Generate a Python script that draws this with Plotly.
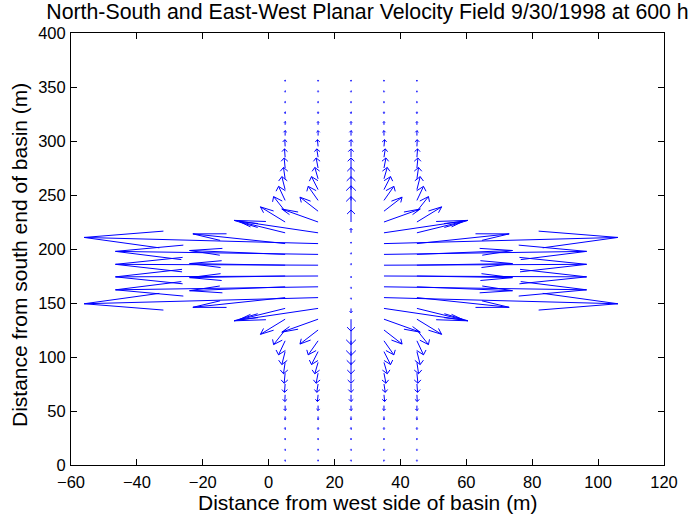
import plotly.graph_objects as go

# Grid of measurement points (m)
x_cols = [5, 15, 25, 35, 45]
y_rows = [5, 15, 25, 35, 45, 55, 65, 75, 85, 95, 105, 115, 125, 135, 145, 155, 165, 175,
          185, 195, 205, 215, 225, 235, 245, 255, 265, 275, 285, 295, 305, 315, 325, 335, 345, 355]

# East-West component (drawn length, m) per row (cols x=5,15,25,35,45)
u_rows = [
    [0, 0, 0, 0, 0],                 # 5
    [0, 0, 0, 0, 0],                 # 15
    [0, 0, 0, 0, 0],                 # 25
    [0, 0, 0, 0, 0],                 # 35
    [0, 0, 0, 0, 0],                 # 45
    [0, 0, 0, 0, 0],                 # 55
    [-0.1, -0.2, 0, 0.2, 0.1],       # 65
    [-0.2, -0.4, 0, 0.4, 0.2],       # 75
    [-0.3, -0.6, 0, 0.6, 0.3],       # 85
    [-0.5, -1, 0, 1, 0.5],           # 95
    [-1, -2, 0, 2, 1],               # 105
    [-2, -3, 0, 3, 2],               # 115
    [-3.5, -5.5, 0, 5.5, 3.5],       # 125
    [-7.5, -11, 0, 11, 7.5],         # 135
    [-14, -25.5, 0, 25.5, 14],       # 145
    [-28, -71, 0, 71, 28],           # 155
    [-29, -61.5, 0, 61.5, 29],       # 165
    [-29, -61.5, 0, 61.5, 29],       # 175
    [-29, -61.5, 0, 61.5, 29],       # 185
    [-29, -61.5, 0, 61.5, 29],       # 195
    [-28, -71, 0, 71, 28],           # 205
    [-14, -25.5, 0, 25.5, 14],       # 215
    [-7.5, -11, 0, 11, 7.5],         # 225
    [-3.5, -5.5, 0, 5.5, 3.5],       # 235
    [-2, -3, 0, 3, 2],               # 245
    [-1, -2, 0, 2, 1],               # 255
    [-0.5, -1, 0, 1, 0.5],           # 265
    [-0.3, -0.6, 0, 0.6, 0.3],       # 275
    [-0.2, -0.4, 0, 0.4, 0.2],       # 285
    [-0.1, -0.2, 0, 0.2, 0.1],       # 295
    [0, 0, 0, 0, 0],                 # 305
    [0, 0, 0, 0, 0],                 # 315
    [0, 0, 0, 0, 0],                 # 325
    [0, 0, 0, 0, 0],                 # 335
    [0, 0, 0, 0, 0],                 # 345
    [0, 0, 0, 0, 0],                 # 355
]

# North-South component (drawn length, m) per row
v_rows = [
    [-1.5, -1.5, -1.5, -1.5, -1.5],      # 5
    [-1.5, -1.5, -1.5, -1.5, -1.5],      # 15
    [-1.6, -1.6, -1.6, -1.6, -1.6],      # 25
    [-2, -2, -2, -2, -2],                # 35
    [-3, -3, -3, -3, -3],                # 45
    [-4.6, -4.6, -4.6, -4.6, -4.6],      # 55
    [-6.2, -6.2, -6.2, -6.2, -6.2],      # 65
    [-7.7, -7.7, -7.7, -7.7, -7.7],      # 75
    [-9.3, -9.3, -9.3, -9.3, -9.3],      # 85
    [-10.5, -10.5, -10.5, -10.5, -10.5], # 95
    [-12, -12, -12, -12, -12],           # 105
    [-13, -13, -13.5, -13, -13],         # 115
    [-13.5, -13, -13.5, -13, -13.5],     # 125
    [-14, -12, -11, -12, -14],           # 135
    [-10.5, -11.5, -4, -11.5, -10.5],    # 145
    [-9, -5.7, -1.5, -5.7, -9],          # 155
    [-3.6, -2.8, -1.5, -2.8, -3.6],      # 165
    [-1.5, -0.8, -1.5, -0.8, -1.5],      # 175
    [1.5, 0.8, 1.5, 0.8, 1.5],           # 185
    [3.6, 2.8, 1.5, 2.8, 3.6],           # 195
    [9, 5.7, 1.5, 5.7, 9],               # 205
    [10.5, 11.5, 4, 11.5, 10.5],         # 215
    [14, 12, 11, 12, 14],                # 225
    [13.5, 13, 13.5, 13, 13.5],          # 235
    [13, 13, 13.5, 13, 13],              # 245
    [12, 12, 12, 12, 12],                # 255
    [10.5, 10.5, 10.5, 10.5, 10.5],      # 265
    [9.3, 9.3, 9.3, 9.3, 9.3],           # 275
    [7.7, 7.7, 7.7, 7.7, 7.7],           # 285
    [6.2, 6.2, 6.2, 6.2, 6.2],           # 295
    [4.6, 4.6, 4.6, 4.6, 4.6],           # 305
    [3, 3, 3, 3, 3],                     # 315
    [2, 2, 2, 2, 2],                     # 325
    [1.6, 1.6, 1.6, 1.6, 1.6],           # 335
    [1.5, 1.5, 1.5, 1.5, 1.5],           # 345
    [1.5, 1.5, 1.5, 1.5, 1.5],           # 355
]

x_ticks = [-60, -40, -20, 0, 20, 40, 60, 80, 100, 120]
y_ticks = [0, 50, 100, 150, 200, 250, 300, 350, 400]

title_text = "North-South and East-West Planar Velocity Field 9/30/1998 at 600 h"
x_label = "Distance from west side of basin (m)"
y_label = "Distance from south end of basin (m)"

# quiver-style arrows (shaft + head), head geometry as in MATLAB quiver
alpha, beta = 0.33, 0.33
xs, ys = [], []
for i, y in enumerate(y_rows):
    for j, x in enumerate(x_cols):
        u = u_rows[i][j]
        v = v_rows[i][j]
        xs += [x, x + u, None]
        ys += [y, y + v, None]
        xs += [x + u - alpha * (u + beta * v), x + u, x + u - alpha * (u - beta * v), None]
        ys += [y + v - alpha * (v - beta * u), y + v, y + v - alpha * (v + beta * u), None]

font_family = "Liberation Sans, Arial, Helvetica, sans-serif"

fig = go.Figure()
fig.add_trace(go.Scatter(x=xs, y=ys, mode="lines",
                         line=dict(color="#0000ff", width=1),
                         hoverinfo="skip", showlegend=False))

fig.update_layout(
    width=698, height=514,
    margin=dict(l=71, r=34, t=33, b=49, autoexpand=False),
    paper_bgcolor="white", plot_bgcolor="white",
    font=dict(family=font_family, color="black", size=16),
    title=dict(text=title_text, x=0.5, xref="paper", xanchor="center",
               y=1 - 12 / 514, yref="container", yanchor="middle",
               automargin=False,
               font=dict(size=21.3, family=font_family, color="black")),
    annotations=[
        dict(text=x_label, xref="paper", yref="paper", x=0.5, y=0,
             xanchor="center", yanchor="middle", yshift=-37, showarrow=False,
             font=dict(size=21, family=font_family, color="black")),
        dict(text=y_label, xref="paper", yref="paper", x=0, y=0.5,
             xanchor="center", yanchor="middle", xshift=-52, yshift=-6,
             textangle=-90, showarrow=False,
             font=dict(size=21, family=font_family, color="black")),
    ],
)
fig.update_xaxes(range=[-60, 120], tickvals=x_ticks, ticks="inside", ticklen=6,
                 showline=True, mirror="ticks", linecolor="black", linewidth=1,
                 tickcolor="black", showgrid=False, zeroline=False, automargin=False,
                 tickfont=dict(size=16.5), ticklabelstandoff=2)
fig.update_yaxes(range=[0, 400], tickvals=y_ticks, ticks="inside", ticklen=6,
                 showline=True, mirror="ticks", linecolor="black", linewidth=1,
                 tickcolor="black", showgrid=False, zeroline=False, automargin=False,
                 tickfont=dict(size=16.5), ticklabelstandoff=1)

fig.write_html("out.html",
               config={"displayModeBar": False, "staticPlot": True},
               post_script="document.body.style.margin='0';document.body.style.padding='0';")
